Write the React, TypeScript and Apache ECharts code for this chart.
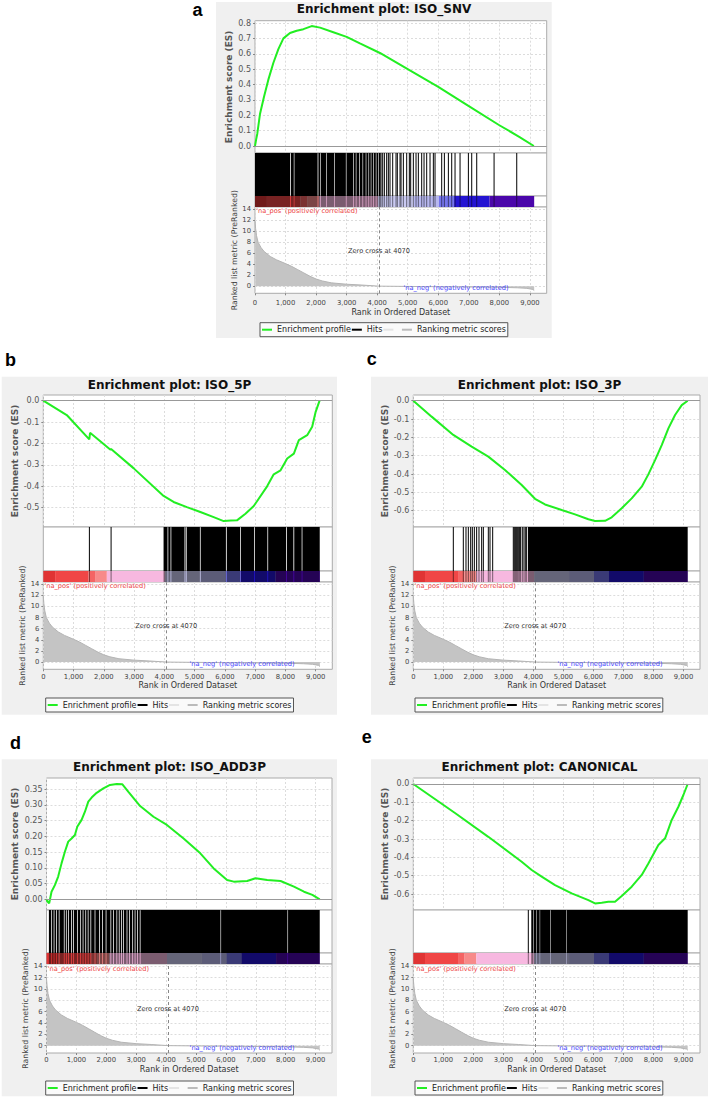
import React, { useEffect, useRef } from "react";
import * as echarts from "echarts";

// ---------------- data ----------------
const RANK_MAX = 9550;
const X_TICKS = [0, 1000, 2000, 3000, 4000, 5000, 6000, 7000, 8000, 9000];
const METRIC_TICKS = [0, 2, 4, 6, 8, 10, 12, 14];
const METRIC_MIN = -1.3;
const METRIC_MAX = 14.4;
const ZERO_CROSS = 4070;

const METRIC_RANKS = [0, 20, 50, 100, 200, 300, 500, 700, 1000, 1200, 1400, 1600, 1800, 2000, 2200, 2500, 3000, 3500, 4070, 5000, 6000, 7000, 8000, 8600, 8900, 9100, 9140];
const METRIC_VALUES = [11.8, 10.5, 9.2, 8.0, 7.0, 6.3, 5.4, 4.8, 4.1, 3.6, 3.0, 2.4, 1.8, 1.3, 0.95, 0.6, 0.35, 0.2, 0, -0.05, -0.1, -0.15, -0.2, -0.3, -0.4, -0.6, -0.8];

const COLORBAR_BINS = [0, 390, 1490, 1710, 2100, 4030, 5190, 6020, 6520, 7680, 9140];

const ES_SNV_RANKS = [0, 35, 75, 165, 295, 435, 600, 765, 930, 1145, 1365, 1585, 1855, 2130, 2565, 3000, 3435, 4090, 5000, 6000, 7000, 8000, 8650, 9130];
const ES_SNV_VALUES = [0, 0.04, 0.08, 0.21, 0.32, 0.43, 0.54, 0.63, 0.70, 0.735, 0.75, 0.76, 0.78, 0.77, 0.74, 0.71, 0.667, 0.605, 0.50, 0.385, 0.26, 0.135, 0.06, 0];
const ES_SNV_TICKS = [0, 0.1, 0.2, 0.3, 0.4, 0.5, 0.6, 0.7, 0.8];

const ES_5P_RANKS = [0, 775, 1520, 1545, 2210, 2240, 2980, 3975, 4305, 4745, 5190, 5630, 5960, 6200, 6400, 6680, 6955, 7395, 7615, 7840, 8060, 8280, 8445, 8720, 8885, 9000, 9130];
const ES_5P_VALUES = [0, -0.067, -0.181, -0.15, -0.228, -0.226, -0.315, -0.445, -0.473, -0.497, -0.52, -0.544, -0.5625, -0.56, -0.559, -0.528, -0.492, -0.40, -0.344, -0.325, -0.27, -0.247, -0.184, -0.161, -0.122, -0.052, 0];
const ES_5P_TICKS = [0, -0.1, -0.2, -0.3, -0.4, -0.5];

const ES_3P_RANKS = [0, 611, 1333, 1944, 2499, 3054, 3610, 4054, 4387, 4942, 5387, 5832, 6054, 6387, 6609, 6942, 7275, 7609, 7830, 8053, 8275, 8497, 8719, 8942, 9140];
const ES_3P_VALUES = [0, -0.087, -0.187, -0.251, -0.305, -0.378, -0.46, -0.535, -0.566, -0.596, -0.62, -0.647, -0.656, -0.655, -0.636, -0.587, -0.533, -0.469, -0.402, -0.324, -0.242, -0.151, -0.078, -0.024, 0];
const ES_3P_TICKS = [0, -0.1, -0.2, -0.3, -0.4, -0.5, -0.6];

const ES_ADD3P_RANKS = [0, 34, 90, 168, 280, 391, 503, 615, 727, 839, 951, 1029, 1174, 1286, 1398, 1510, 1678, 1902, 2125, 2349, 2539, 2740, 3132, 3579, 4027, 4586, 5145, 5593, 6040, 6264, 6711, 6991, 7383, 7830, 8277, 8613, 8893, 9140];
const ES_ADD3P_VALUES = [0, -0.007, -0.013, 0.024, 0.045, 0.072, 0.114, 0.151, 0.183, 0.193, 0.204, 0.23, 0.252, 0.278, 0.31, 0.323, 0.338, 0.352, 0.363, 0.366, 0.365, 0.341, 0.296, 0.262, 0.236, 0.193, 0.146, 0.098, 0.061, 0.056, 0.058, 0.067, 0.061, 0.058, 0.040, 0.024, 0.014, 0];
const ES_ADD3P_TICKS = [0, 0.05, 0.1, 0.15, 0.2, 0.25, 0.3, 0.35];

const ES_CAN_RANKS = [0, 1389, 2499, 3610, 3944, 4276, 4721, 5276, 5832, 6054, 6276, 6497, 6720, 6942, 7275, 7609, 7830, 8164, 8387, 8608, 8830, 8997, 9140];
const ES_CAN_VALUES = [0, -0.158, -0.288, -0.424, -0.469, -0.505, -0.551, -0.596, -0.633, -0.651, -0.647, -0.642, -0.642, -0.611, -0.56, -0.496, -0.433, -0.333, -0.296, -0.196, -0.124, -0.06, 0];
const ES_CAN_TICKS = [0, -0.1, -0.2, -0.3, -0.4, -0.5, -0.6];

// hits: [first rank, last rank] ; single hits have first == last
const HITS_SNV = [[0, 1150], [1175, 1270], [1290, 2050], [2075, 2130], [2150, 2325], [2345, 2595], [2615, 2975], [2995, 3215], [3235, 3300], [3320, 3410], [3430, 3520], [3540, 3625], [3645, 3715], [3735, 3790], [3810, 3865], [3885, 3955], [3975, 4040], [4060, 4110], [4126, 4126], [4180, 4180], [4235, 4235], [4311, 4311], [4366, 4366], [4420, 4420], [4508, 4508], [4617, 4617], [4660, 4660], [4748, 4748], [4781, 4781], [4857, 4857], [4966, 4966], [5053, 5053], [5097, 5097], [5184, 5184], [5272, 5272], [5348, 5348], [5457, 5457], [5534, 5534], [5621, 5621], [5730, 5730], [5839, 5839], [5894, 5894], [6112, 6112], [6200, 6200], [6331, 6331], [6440, 6440], [6549, 6549], [6713, 6713], [6986, 6986], [7095, 7095], [7259, 7259], [7827, 7827], [8569, 8569]];
const HITS_5P = [[1523, 1523], [2240, 2240], [3974, 4105], [4130, 4205], [4230, 4655], [4685, 4712], [4738, 5175], [5200, 6035], [6062, 6500], [6525, 6965], [6990, 7405], [7430, 8022], [8048, 8265], [8292, 8538], [8562, 9135]];
const HITS_3P = [[1333, 1333], [1666, 1666], [1755, 1755], [1833, 1833], [1911, 1911], [1966, 1966], [2033, 2033], [2110, 2110], [2188, 2188], [2277, 2277], [2333, 2333], [2499, 2499], [2555, 2555], [2644, 2644], [3331, 3331], [3364, 3364], [3398, 3398], [3431, 3431], [3464, 3464], [3498, 3498], [3542, 3542], [3575, 3575], [3631, 3631], [3686, 3686], [3731, 3731], [3775, 3775], [3820, 9140]];
const HITS_ADD3P = [[80, 160], [185, 240], [265, 320], [345, 410], [435, 580], [605, 650], [675, 720], [745, 820], [845, 890], [915, 1020], [1045, 1130], [1155, 1210], [1235, 1300], [1325, 1380], [1405, 1470], [1495, 1610], [1635, 1760], [1785, 1860], [1885, 1980], [2005, 2140], [2165, 2230], [2255, 2340], [2365, 2420], [2445, 2500], [2525, 2560], [2585, 2680], [2705, 2760], [2785, 2870], [2895, 2950], [2975, 3030], [3055, 3120], [3145, 5820], [5840, 8060], [8080, 9140]];
const HITS_CAN = [[3831, 3831], [3930, 4000], [4015, 4090], [4105, 4210], [4225, 4560], [4575, 5100], [5115, 9140]];

const NA_POS_TEXT = "'na_pos' (positively correlated)";
const NA_NEG_TEXT = "'na_neg' (negatively correlated)";
const ZERO_CROSS_TEXT = "Zero cross at 4070";
const NA_POS_AT = [40, 13.6];
const ZERO_TEXT_AT = [4060, 6.4];
const NA_NEG_AT = [8300, -0.4];

const LEGEND_NAMES = ["Enrichment profile", "Hits", "\u00a0", "Ranking metric scores"];

// ---------------- styles ----------------
const FONT = "DejaVu Sans";
const GREEN = "#22ee22";
const COLORBAR_COLORS = ["#e03434", "#f04646", "#f46464", "#f78a8a", "#f7b8e0", "#cacaf2", "#b8b8f0", "#7474ec", "#2414d2", "#4a06aa"];
const GRID_LINE = { color: "#dcdcdc", type: [2, 2], width: 1 };
const PANEL_BG = "#f0f0f0";
const BORDER = "#aaaaaa";

// ---------------- layout ----------------
const PANELS = [
  {
    letter: "a", title: "Enrichment plot: ISO_SNV", esRanks: ES_SNV_RANKS, esValues: ES_SNV_VALUES, esTicks: ES_SNV_TICKS, digits: 1, hits: HITS_SNV,
    esMin: -0.0455, esMax: 0.815,
    box: [216, 2, 335.7, 336], letterAt: [192.5, 9.5], titleAt: [384, 9.5],
    left: 255, right: 546.7, esTop: 20.7, hitsTop: 153, cbTop: 196, mTop: 207, mBottom: 293.3,
    esNameGap: 21.5, mNameGap: 16, xLabelMargin: 6, xNameGap: 15, legendAt: [260, 322.7],
  },
  {
    letter: "b", title: "Enrichment plot: ISO_5P", esRanks: ES_5P_RANKS, esValues: ES_5P_VALUES, esTicks: ES_5P_TICKS, digits: 1, hits: HITS_5P,
    esMin: -0.59, esMax: 0.0266,
    box: [1.7, 376.7, 335.3, 338], letterAt: [5, 360.4], titleAt: [169.5, 385],
    left: 43.3, right: 332.3, esTop: 395, hitsTop: 527, cbTop: 571, mTop: 582, mBottom: 669.3,
    esNameGap: 23.8, mNameGap: 16, xLabelMargin: 4, xNameGap: 12.5, legendAt: [45.7, 698],
  },
  {
    letter: "c", title: "Enrichment plot: ISO_3P", esRanks: ES_3P_RANKS, esValues: ES_3P_VALUES, esTicks: ES_3P_TICKS, digits: 1, hits: HITS_3P,
    esMin: -0.689, esMax: 0.031,
    box: [371, 376.7, 337, 338], letterAt: [366.7, 358.7], titleAt: [539.5, 385],
    left: 413.3, right: 700, esTop: 395, hitsTop: 527, cbTop: 571, mTop: 582, mBottom: 669.3,
    esNameGap: 23.8, mNameGap: 16, xLabelMargin: 4, xNameGap: 12.5, legendAt: [415, 698],
  },
  {
    letter: "d", title: "Enrichment plot: ISO_ADD3P", esRanks: ES_ADD3P_RANKS, esValues: ES_ADD3P_VALUES, esTicks: ES_ADD3P_TICKS, digits: 2, hits: HITS_ADD3P,
    esMin: -0.034, esMax: 0.385,
    box: [1.7, 759.3, 335.3, 337], letterAt: [10, 743], titleAt: [169.5, 767.7],
    left: 46.5, right: 332, esTop: 778, hitsTop: 910, cbTop: 953, mTop: 964, mBottom: 1053,
    esNameGap: 27.5, mNameGap: 16, xLabelMargin: 3.5, xNameGap: 12.5, legendAt: [45.7, 1081],
  },
  {
    letter: "e", title: "Enrichment plot: CANONICAL", esRanks: ES_CAN_RANKS, esValues: ES_CAN_VALUES, esTicks: ES_CAN_TICKS, digits: 1, hits: HITS_CAN,
    esMin: -0.687, esMax: 0.0327,
    box: [371, 759.3, 337, 337], letterAt: [361.7, 737], titleAt: [539.5, 767.7],
    left: 413.3, right: 700, esTop: 778, hitsTop: 910, cbTop: 953, mTop: 964, mBottom: 1053,
    esNameGap: 23.8, mNameGap: 16, xLabelMargin: 3.5, xNameGap: 12.5, legendAt: [415, 1081],
  },
];

function rectRenderer(fillFor: (api: any) => string) {
  return (params: any, api: any) => {
    const a = api.coord([api.value(0), 1]);
    const b = api.coord([api.value(1), 0]);
    const raw = b[0] - a[0];
    const w = Math.max(raw, 1);
    const x = raw < 1 ? a[0] - 0.5 : a[0];
    return { type: "rect", shape: { x, y: a[1], width: w, height: b[1] - a[1] }, style: { fill: fillFor(api) } };
  };
}

function hiddenAxis(gridIndex: number, min: number, max: number) {
  return {
    type: "value", gridIndex, min, max,
    axisLine: { show: false, onZero: false }, axisTick: { show: false }, axisLabel: { show: false }, splitLine: { show: false },
  };
}

function buildOption() {
  const grid: any[] = [];
  const xAxis: any[] = [];
  const yAxis: any[] = [];
  const series: any[] = [];
  const title: any[] = [];
  const legend: any[] = [];
  const graphic: any[] = [];

  const colorbarData = COLORBAR_BINS.slice(0, -1).map((b, k) => [b, COLORBAR_BINS[k + 1], k]);
  const metricData = METRIC_RANKS.map((r, k) => [r, METRIC_VALUES[k]]);

  PANELS.forEach((p, i) => {
    const base = i * 4;
    const w = p.right - p.left;
    const sections = [[p.esTop, p.hitsTop], [p.hitsTop, p.cbTop], [p.cbTop, p.mTop], [p.mTop, p.mBottom]];
    sections.forEach(([t, b]) => {
      grid.push({ left: p.left, top: t, width: w, height: b - t, show: true, backgroundColor: "#fff", borderColor: BORDER, borderWidth: 1 });
    });

    graphic.push({ type: "rect", z: -10, shape: { x: p.box[0], y: p.box[1], width: p.box[2], height: p.box[3] }, style: { fill: PANEL_BG } });
    graphic.push({
      type: "text", x: p.letterAt[0], y: p.letterAt[1],
      style: { text: p.letter, font: 'bold 18px "Liberation Sans", Arial, sans-serif', fill: "#000", textAlign: "left", textVerticalAlign: "middle" },
    });

    title.push({
      text: p.title, left: p.titleAt[0], top: p.titleAt[1] - 6.5, textAlign: "center", padding: 0,
      textStyle: { fontSize: 12, fontWeight: "bold", color: "#111", fontFamily: FONT },
    });

    legend.push({
      left: p.legendAt[0], top: p.legendAt[1], data: LEGEND_NAMES, icon: "rect", itemWidth: 10, itemHeight: 2, itemGap: 1,
      padding: [3, 2, 3, 2], borderColor: "#555", borderWidth: 1, backgroundColor: "#fafafa", selectedMode: false,
      textStyle: { fontSize: 8, color: "#222", fontFamily: FONT },
    });

    // ES axes
    xAxis.push({
      type: "value", gridIndex: base, min: 0, max: RANK_MAX,
      axisLine: { show: false, onZero: false }, axisTick: { show: false, customValues: X_TICKS }, axisLabel: { show: false },
      splitLine: { show: true, lineStyle: GRID_LINE },
    });
    yAxis.push({
      type: "value", gridIndex: base, min: p.esMin, max: p.esMax,
      axisLine: { show: false, onZero: false },
      axisTick: { show: true, length: 2, customValues: p.esTicks, lineStyle: { color: "#888" } },
      axisLabel: { customValues: p.esTicks, formatter: (v: number) => v.toFixed(p.digits), fontSize: 8, color: "#555", margin: 4, fontFamily: FONT },
      splitLine: { show: true, lineStyle: GRID_LINE },
      name: "Enrichment score (ES)", nameLocation: "middle", nameGap: p.esNameGap,
      nameTextStyle: { fontSize: 9, fontWeight: "bold", color: "#555", fontFamily: FONT },
    });
    // hits axes
    xAxis.push(hiddenAxis(base + 1, 0, RANK_MAX));
    yAxis.push(hiddenAxis(base + 1, 0, 1));
    // colorbar axes
    xAxis.push(hiddenAxis(base + 2, 0, RANK_MAX));
    yAxis.push(hiddenAxis(base + 2, 0, 1));
    // metric axes
    xAxis.push({
      type: "value", gridIndex: base + 3, min: 0, max: RANK_MAX,
      axisLine: { show: false, onZero: false },
      axisTick: { show: true, length: 2, customValues: X_TICKS, lineStyle: { color: "#888" } },
      axisLabel: { customValues: X_TICKS, formatter: (v: number) => v.toLocaleString("en-US"), fontSize: 6.8, color: "#444", margin: p.xLabelMargin, fontFamily: FONT },
      splitLine: { show: true, lineStyle: GRID_LINE },
      name: "Rank in Ordered Dataset", nameLocation: "middle", nameGap: p.xNameGap,
      nameTextStyle: { fontSize: 8, color: "#333", fontFamily: FONT },
    });
    yAxis.push({
      type: "value", gridIndex: base + 3, min: METRIC_MIN, max: METRIC_MAX,
      axisLine: { show: false, onZero: false },
      axisTick: { show: true, length: 2, customValues: METRIC_TICKS, lineStyle: { color: "#888" } },
      axisLabel: { customValues: METRIC_TICKS, fontSize: 6.8, color: "#444", margin: 4, fontFamily: FONT },
      splitLine: { show: true, lineStyle: GRID_LINE },
      name: "Ranked list metric (PreRanked)", nameLocation: "middle", nameGap: p.mNameGap,
      nameTextStyle: { fontSize: 7.8, color: "#444", fontFamily: FONT },
    });

    series.push({
      type: "line", name: "Enrichment profile", xAxisIndex: base, yAxisIndex: base, z: 4,
      data: p.esRanks.map((r, k) => [r, p.esValues[k]]), showSymbol: false, symbol: "none",
      lineStyle: { color: GREEN, width: 2 }, itemStyle: { color: GREEN },
      markLine: { silent: true, symbol: ["none", "none"], label: { show: false }, lineStyle: { color: "#999", width: 1, type: "solid" }, data: [{ yAxis: 0 }] },
    });
    series.push({
      type: "custom", name: "Hits", xAxisIndex: base + 1, yAxisIndex: base + 1, itemStyle: { color: "#000" },
      data: p.hits, renderItem: rectRenderer(() => "#000"),
    });
    series.push({
      type: "custom", name: "colorbar", xAxisIndex: base + 2, yAxisIndex: base + 2,
      data: colorbarData, renderItem: rectRenderer((api: any) => COLORBAR_COLORS[api.value(2)]),
    });
    series.push({
      type: "custom", name: "hits overlay", xAxisIndex: base + 2, yAxisIndex: base + 2, z: 3,
      data: p.hits, renderItem: rectRenderer(() => "rgba(0,0,0,0.5)"),
    });
    series.push({
      type: "line", name: "Ranking metric scores", xAxisIndex: base + 3, yAxisIndex: base + 3,
      data: metricData, showSymbol: false, symbol: "none",
      lineStyle: { color: "#b4b4b4", width: 1 }, itemStyle: { color: "#bbbbbb" }, areaStyle: { color: "#c4c4c4", opacity: 1 },
      markLine: { silent: true, symbol: ["none", "none"], label: { show: false }, lineStyle: { color: "#888", width: 1, type: [3, 3] }, data: [{ xAxis: ZERO_CROSS }] },
      markPoint: {
        silent: true, symbol: "rect", symbolSize: 0,
        data: [
          { coord: NA_POS_AT, label: { show: true, position: "right", distance: 0, formatter: NA_POS_TEXT, color: "#ee4444", fontSize: 6.6, fontFamily: FONT } },
          { coord: ZERO_TEXT_AT, label: { show: true, position: "inside", formatter: ZERO_CROSS_TEXT, color: "#333", fontSize: 6.6, fontFamily: FONT } },
          { coord: NA_NEG_AT, label: { show: true, position: "left", distance: 0, formatter: NA_NEG_TEXT, color: "#4444ff", fontSize: 6.6, fontFamily: FONT } },
        ],
      },
    });
  });

  series.push({
    type: "line", name: "\u00a0", xAxisIndex: 3, yAxisIndex: 3, data: [],
    lineStyle: { color: "#e4e4e4" }, itemStyle: { color: "#e4e4e4" },
  });

  return {
    animation: false,
    textStyle: { fontFamily: FONT },
    title, legend, grid, xAxis, yAxis, series, graphic,
  };
}

export default function App() {
  const ref = useRef<HTMLDivElement>(null);
  useEffect(() => {
    document.body.style.margin = "0";
    const chart = echarts.init(ref.current as HTMLDivElement, undefined, { renderer: "svg", width: 708, height: 1098 });
    chart.setOption(buildOption() as any);
    return () => chart.dispose();
  }, []);
  return <div ref={ref} style={{ width: 708, height: 1098, background: "#fff" }} />;
}
